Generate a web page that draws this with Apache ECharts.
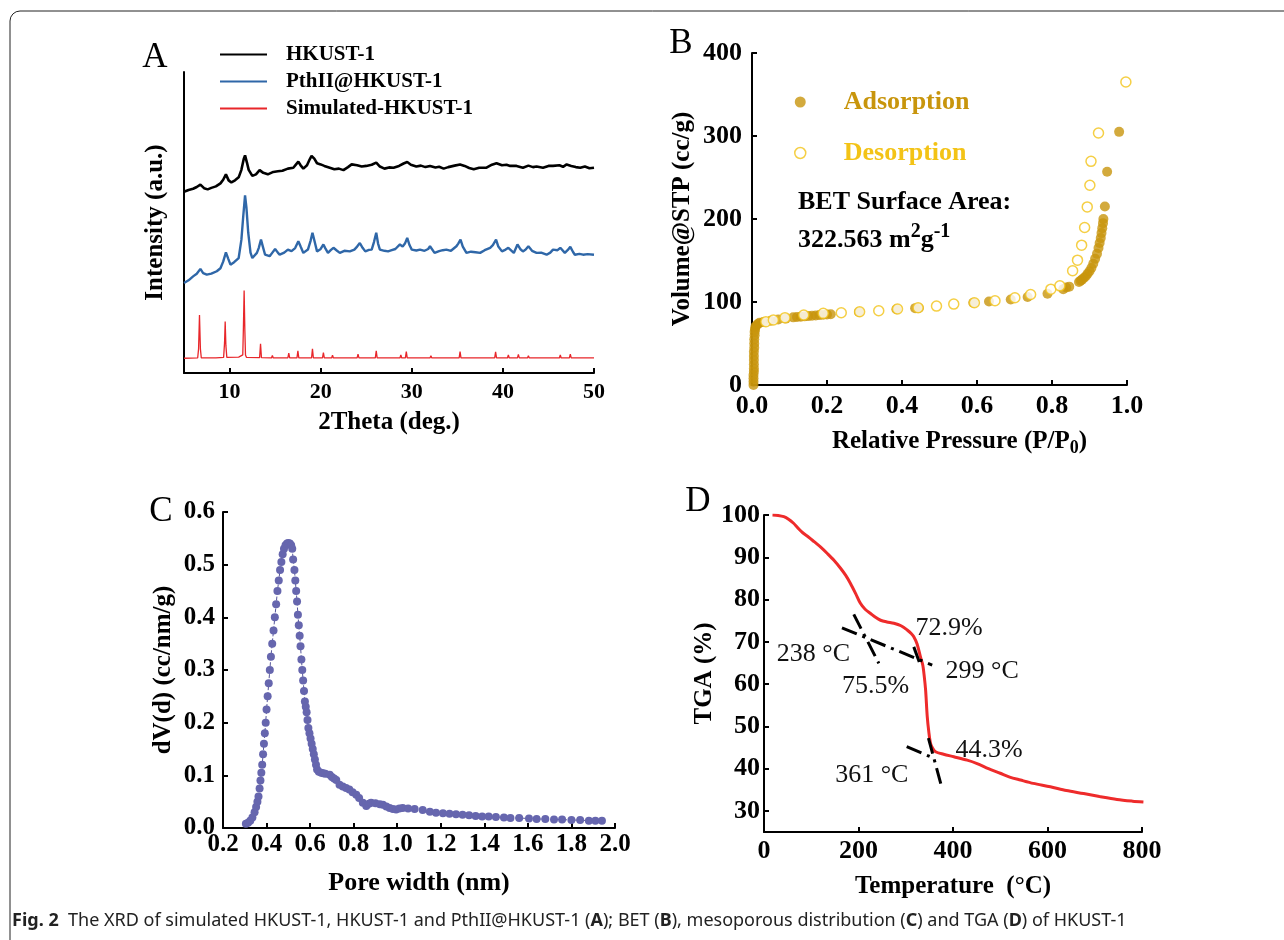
<!DOCTYPE html>
<html>
<head>
<meta charset="utf-8">
<script src="https://cdn.jsdelivr.net/npm/echarts@6/dist/echarts.min.js"></script>
<style>
  html, body { margin: 0; padding: 0; background: #fff; }
  #main { width: 1284px; height: 940px; }
</style>
</head>
<body>
<div id="main"></div>
<script>
const SERIF = '"Liberation Serif", "Times New Roman", serif';

// ---- panel A : XRD (2theta, offset intensity a.u.) ----
const xrdNames = ['HKUST-1', 'PthII@HKUST-1', 'Simulated-HKUST-1'];
const xrdTicks = [10, 20, 30, 40, 50];
const xrdBlack = [[5,60.2],[5.5,60.8],[6,61.2],[6.4,61.8],[6.8,62.6],[7.2,61.4],[7.6,61],[8,61.5],[8.5,62],[9,63],[9.3,64.2],[9.6,66],[9.9,64],[10.2,63.3],[10.6,64],[11,65],[11.3,67.5],[11.55,71],[11.7,72.3],[11.9,70],[12.1,67.5],[12.5,65.5],[12.9,66],[13.3,67.4],[13.7,66.5],[14.2,66],[14.8,66.8],[15.3,67],[15.8,67.2],[16.4,67.9],[17,68.2],[17.3,69.3],[17.55,70.2],[17.8,69],[18.1,67.9],[18.5,69],[18.8,71],[19,72.1],[19.3,71.2],[19.6,69.7],[20,69.3],[20.4,68.8],[21,68.2],[21.5,67.7],[22,67.9],[22.5,67.4],[23,68.4],[23.4,69.3],[24,69],[24.5,68.6],[25,68.8],[25.6,69.2],[26.1,69.9],[26.5,68.6],[27,67.9],[27.5,68.3],[28,68.2],[28.6,68.8],[29.1,69.6],[29.5,70.1],[29.9,69.2],[30.5,68.6],[31,68.9],[31.5,68.4],[32,68.8],[32.6,68.3],[33,68.5],[33.5,67.9],[34,68.4],[34.7,68.9],[35.3,69.3],[35.8,68.8],[36.3,68.1],[36.8,67.7],[37.4,68.2],[38.2,68.2],[38.8,69.2],[39.3,69.7],[39.9,69],[40.4,69.2],[40.8,68.8],[41.5,68.8],[42.2,68.2],[42.8,68.9],[43.3,68.4],[43.7,68.6],[44.4,68.2],[45,68.8],[45.5,68.8],[46.2,69],[46.6,68.5],[47,69.3],[47.5,68.8],[48,68.4],[48.5,68.2],[49,68.6],[49.5,68],[50,68.2]];
const xrdBlue = [[5,29.9],[5.5,30.8],[6,32.1],[6.4,33],[6.8,34.6],[7.1,33.2],[7.5,32.7],[8,33],[8.6,33.8],[9,34.8],[9.3,37],[9.6,40.1],[9.85,38],[10.1,36],[10.5,36.8],[11,38.2],[11.3,44.3],[11.5,52],[11.7,59],[11.85,55],[12.05,46.6],[12.3,40],[12.5,38.2],[13,39.9],[13.2,41.5],[13.45,44.3],[13.7,41.5],[13.9,39.3],[14.4,38.8],[14.7,40],[15,41.2],[15.3,40],[15.5,39.3],[16,40],[16.4,41],[16.8,40.5],[17.2,41.5],[17.55,43.8],[17.8,42],[18.1,39.9],[18.6,41],[18.9,44],[19.1,46.6],[19.35,43.5],[19.6,40.4],[20,41.2],[20.3,42.7],[20.5,41.5],[20.8,39.9],[21.1,40.8],[21.4,41.6],[21.8,40.6],[22.1,39.9],[22.6,40.6],[23.2,40.4],[23.7,41],[24,42],[24.3,43.2],[24.6,41.6],[24.9,40.4],[25.3,40.9],[25.6,41],[25.85,43.5],[26.1,46.6],[26.3,43],[26.5,41],[27,40.6],[27.4,40.4],[27.8,40.8],[28.2,41.2],[28.7,42.7],[29,42],[29.25,43],[29.5,44.9],[29.75,42.5],[30,41],[30.5,40.7],[30.9,41],[31.4,40.6],[31.8,41.2],[32,42.1],[32.5,39.9],[33,40.5],[33.4,40.8],[33.8,41],[34.3,40.6],[34.9,42.1],[35.1,43],[35.35,44.3],[35.6,42],[36,39.9],[36.5,40.3],[37,40.1],[37.5,39.9],[38,40.8],[38.6,41.6],[38.9,42.5],[39.25,44.3],[39.5,42],[39.9,40.4],[40.3,41],[40.6,41.6],[41.2,39.9],[41.6,42.7],[41.9,41.2],[42.2,40.4],[42.5,41],[42.8,42.1],[43.2,40.6],[43.7,39.9],[44.2,40],[44.8,39.3],[45.2,40],[45.5,41],[46,40.8],[46.3,41.6],[46.8,39.9],[47.1,40.8],[47.4,41.9],[47.7,40.2],[47.9,39.3],[48.4,39.6],[48.8,39.3],[49.3,39.5],[50,39.3]];
const xrdRed = [[5,4.9],[6.5,5],[6.6,8],[6.7,19.3],[6.8,8],[6.9,5],[8.5,5],[9.35,5.2],[9.45,10],[9.52,17.1],[9.6,9],[9.7,5.2],[11,5.3],[11.45,6],[11.52,15],[11.6,27.4],[11.68,14],[11.75,6],[11.85,5.2],[13.3,5.1],[13.4,9.7],[13.5,5.1],[14.6,5],[14.7,5.8],[14.8,5],[16.4,5],[16.5,6.6],[16.6,5],[17.4,5],[17.5,7.4],[17.6,5],[19,5],[19.1,8],[19.2,5],[20.2,5],[20.3,6.8],[20.4,5],[21.2,5],[21.3,5.9],[21.4,5],[23.3,5],[23.4,5.6],[23.5,5],[24,5],[24.1,6.3],[24.2,5],[26,5],[26.1,7.4],[26.2,5],[28.7,5],[28.8,6],[28.9,5],[29.3,5],[29.4,7.1],[29.5,5],[32,5],[32.1,5.7],[32.2,5],[35.2,5],[35.3,7.1],[35.4,5],[39.1,5],[39.2,7],[39.3,5],[40.5,5],[40.6,6],[40.7,5],[41.6,5],[41.7,6.2],[41.8,5],[42.7,5],[42.8,5.7],[42.9,5],[46.2,5],[46.3,6],[46.4,5],[47.3,5],[47.4,6.3],[47.5,5],[50,5]];

// ---- panel B : N2 isotherm ----
const betNames = ['Adsorption', 'Desorption'];
const adsorption = [[0.004,0],[0.004,4],[0.004,8],[0.004,12],[0.005,16],[0.005,20],[0.005,25],[0.005,30],[0.005,35],[0.005,40],[0.006,45],[0.006,50],[0.006,55],[0.007,60],[0.007,64],[0.008,67],[0.009,70],[0.012,72],[0.016,73.5],[0.02,75],[0.03,76],[0.05,77.5],[0.07,79],[0.09,80],[0.11,81.5],[0.12,82],[0.13,82.3],[0.14,82.7],[0.15,83],[0.16,83.4],[0.17,83.8],[0.18,84.2],[0.19,84.6],[0.2,85],[0.21,85.3],[0.285,88],[0.385,91.3],[0.435,92.6],[0.445,92.8],[0.59,99],[0.632,100.5],[0.69,103],[0.735,106],[0.788,110],[0.83,115.5],[0.838,117.5],[0.846,118.5],[0.872,124],[0.876,125.5],[0.88,127],[0.885,129],[0.89,131],[0.895,134],[0.9,137],[0.905,141],[0.91,146],[0.915,152],[0.92,158],[0.924,165],[0.927,171],[0.93,177],[0.932,183],[0.934,189],[0.936,195],[0.937,200],[0.941,215],[0.947,257],[0.979,305]];
const desorption = [[0.037,76.3],[0.057,78.3],[0.088,81.1],[0.138,84.3],[0.19,86.3],[0.238,87.1],[0.287,88.3],[0.338,89.5],[0.388,91.5],[0.443,93.1],[0.492,95.1],[0.538,97.5],[0.593,99.1],[0.648,101.5],[0.701,105.1],[0.743,109.1],[0.797,115.5],[0.821,119.5],[0.855,137.6],[0.868,150.4],[0.879,168.5],[0.887,189.7],[0.894,214.6],[0.901,240.7],[0.904,269.5],[0.924,303.6],[0.997,365]];

// ---- panel C : pore size distribution ----
const poreDist = [[0.305,0.008],[0.315,0.01],[0.325,0.014],[0.335,0.02],[0.345,0.03],[0.352,0.04],[0.358,0.05],[0.363,0.06],[0.368,0.075],[0.372,0.09],[0.376,0.105],[0.38,0.12],[0.384,0.14],[0.388,0.16],[0.392,0.18],[0.396,0.2],[0.4,0.225],[0.405,0.25],[0.41,0.275],[0.415,0.3],[0.42,0.325],[0.426,0.35],[0.432,0.375],[0.438,0.4],[0.444,0.425],[0.45,0.45],[0.456,0.47],[0.462,0.49],[0.468,0.505],[0.474,0.52],[0.48,0.53],[0.487,0.537],[0.494,0.54],[0.5,0.541],[0.507,0.54],[0.513,0.537],[0.518,0.53],[0.522,0.51],[0.528,0.49],[0.532,0.47],[0.536,0.45],[0.54,0.43],[0.544,0.405],[0.548,0.385],[0.552,0.365],[0.556,0.345],[0.56,0.32],[0.564,0.3],[0.568,0.28],[0.572,0.26],[0.576,0.24],[0.58,0.23],[0.584,0.22],[0.588,0.205],[0.592,0.19],[0.597,0.18],[0.602,0.17],[0.607,0.16],[0.612,0.15],[0.617,0.14],[0.622,0.13],[0.627,0.12],[0.632,0.111],[0.64,0.107],[0.651,0.105],[0.66,0.104],[0.67,0.103],[0.69,0.101],[0.70,0.097],[0.71,0.094],[0.72,0.091],[0.735,0.082],[0.75,0.079],[0.765,0.076],[0.78,0.073],[0.795,0.068],[0.812,0.063],[0.825,0.057],[0.842,0.048],[0.858,0.042],[0.87,0.046],[0.88,0.048],[0.9,0.047],[0.92,0.045],[0.934,0.044],[0.95,0.041],[0.965,0.038],[0.98,0.036],[0.995,0.035],[1.01,0.037],[1.025,0.038],[1.05,0.037],[1.08,0.036],[1.117,0.034],[1.15,0.031],[1.178,0.029],[1.21,0.028],[1.24,0.027],[1.27,0.026],[1.3,0.025],[1.33,0.024],[1.36,0.023],[1.39,0.022],[1.42,0.022],[1.453,0.021],[1.49,0.02],[1.52,0.019],[1.56,0.019],[1.605,0.018],[1.64,0.017],[1.68,0.017],[1.72,0.016],[1.757,0.016],[1.8,0.015],[1.84,0.015],[1.88,0.014],[1.91,0.014],[1.94,0.014]];

// ---- panel D : TGA ----
const tgaCurve = [[18,100],[30,99.9],[42,99.6],[52,99],[62,98.1],[72,96.9],[82,95.8],[94,94.8],[106,93.7],[120,92.4],[134,90.9],[148,89.3],[162,87.4],[173,85.7],[183,83.8],[194,81.4],[204,79.1],[214,77.7],[225.5,76.7],[236,75.8],[246.7,75.1],[260,74.7],[274.8,74.4],[290,73.8],[303,72.8],[312,71.9],[317,71.2],[324,69.5],[331,66.5],[336,64.5],[339,62],[342,58.6],[345.5,52.3],[349,48.5],[352.4,46],[357,44.8],[363,44],[380,43.4],[401.7,42.8],[430,42],[451,41.2],[475,40],[500,38.9],[520,38],[542.7,37.3],[570,36.5],[606,35.7],[640,34.8],[676.5,34.1],[710,33.4],[747,32.7],[780,32.3],[803,32.1]];
const tgaTangents = [
  [[190, 76.5], [243, 64.9]],
  [[165, 73.3], [356, 64.5]],
  [[317, 68.8], [331, 64.5]],
  [[302, 45.2], [352, 42.8]],
  [[348, 47.2], [375, 36.1]]
];
const tgaNotes = [
  ['72.9%', 320.6, 73.2],
  ['238 °C', 27, 67.1],
  ['299 °C', 384.3, 63.1],
  ['75.5%', 165, 59.4],
  ['44.3%', 405.5, 44.4],
  ['361 °C', 150.7, 38.4]
];
const tgaYTicks = [30, 40, 50, 60, 70, 80, 90, 100];

const GOLD = '#C8950C';
const YELLOW = '#F3C316';

function axisBase(extra) {
  return Object.assign({
    axisLine: { show: true, onZero: false, lineStyle: { color: '#000', width: 2 } },
    axisTick: { show: true, inside: true, length: 5, lineStyle: { color: '#000', width: 2 } },
    axisLabel: { fontFamily: SERIF, fontWeight: 'bold', fontSize: 25, color: '#000', margin: 8 },
    splitLine: { show: false },
    nameLocation: 'middle',
    nameTextStyle: { fontFamily: SERIF, fontWeight: 'bold', fontSize: 25, color: '#000' }
  }, extra);
}

const chart = echarts.init(document.getElementById('main'));

const option = {
  animation: false,
  backgroundColor: '#fff',
  grid: [
    { left: 184, top: 72, width: 410, height: 301 },
    { left: 752, top: 53, width: 375, height: 332 },
    { left: 223, top: 512, width: 392, height: 316 },
    { left: 764, top: 515, width: 378, height: 317 }
  ],
  legend: [
    {
      orient: 'vertical', left: 215, top: 39, icon: 'rect',
      itemWidth: 47, itemHeight: 2, itemGap: 6,
      data: xrdNames,
      textStyle: { fontFamily: SERIF, fontWeight: 'bold', fontSize: 21, color: '#000', lineHeight: 20, padding: [0, 0, 0, 14] }
    },
    {
      orient: 'vertical', left: 789, top: 82,
      itemWidth: 11, itemHeight: 11, itemGap: 21,
      data: [
        { name: betNames[0], icon: 'circle', textStyle: { color: GOLD } },
        { name: betNames[1], icon: 'circle', itemStyle: { color: '#fff', borderColor: YELLOW, borderWidth: 1.5 }, textStyle: { color: YELLOW } }
      ],
      textStyle: { fontFamily: SERIF, fontWeight: 'bold', fontSize: 26, lineHeight: 30, padding: [0, 0, 0, 33] }
    }
  ],
  xAxis: [
    axisBase({
      gridIndex: 0, type: 'value', min: 5, max: 50,
      axisTick: { show: true, inside: true, length: 5, customValues: xrdTicks, lineStyle: { color: '#000', width: 2 } },
      axisLabel: { fontFamily: SERIF, fontWeight: 'bold', fontSize: 22, color: '#000', margin: 8, customValues: xrdTicks },
      name: '2Theta (deg.)', nameGap: 37
    }),
    axisBase({
      gridIndex: 1, type: 'value', min: 0, max: 1, interval: 0.2,
      axisLabel: { fontFamily: SERIF, fontWeight: 'bold', fontSize: 26, color: '#000', margin: 8, formatter: (v) => v.toFixed(1) },
      name: 'Relative Pressure (P/P{s|0})', nameGap: 42,
      nameTextStyle: {
        fontFamily: SERIF, fontWeight: 'bold', fontSize: 25, color: '#000', padding: [0, 0, 0, 40],
        rich: { s: { fontFamily: SERIF, fontWeight: 'bold', fontSize: 18, color: '#000', padding: [12, 0, 0, 0] } }
      }
    }),
    axisBase({
      gridIndex: 2, type: 'value', min: 0.2, max: 2.0, interval: 0.2,
      axisLabel: { fontFamily: SERIF, fontWeight: 'bold', fontSize: 25, color: '#000', margin: 4, formatter: (v) => v.toFixed(1) },
      name: 'Pore width (nm)', nameGap: 42, nameTextStyle: { fontFamily: SERIF, fontWeight: 'bold', fontSize: 26, color: '#000' }
    }),
    axisBase({
      gridIndex: 3, type: 'value', min: 0, max: 800, interval: 200,
      axisLabel: { fontFamily: SERIF, fontWeight: 'bold', fontSize: 26, color: '#000', margin: 6 },
      name: 'Temperature  (°C)', nameGap: 42
    })
  ],
  yAxis: [
    axisBase({
      gridIndex: 0, type: 'value', min: 0, max: 100,
      axisTick: { show: false }, axisLabel: { show: false },
      name: 'Intensity (a.u.)', nameGap: 16
    }),
    axisBase({
      gridIndex: 1, type: 'value', min: 0, max: 400, interval: 100,
      axisLabel: { fontFamily: SERIF, fontWeight: 'bold', fontSize: 26, color: '#000', margin: 10 },
      name: 'Volume@STP (cc/g)', nameGap: 57
    }),
    axisBase({
      gridIndex: 2, type: 'value', min: 0, max: 0.6, interval: 0.1,
      axisLabel: { fontFamily: SERIF, fontWeight: 'bold', fontSize: 25, color: '#000', margin: 8, formatter: (v) => v.toFixed(1) },
      name: 'dV(d) (cc/nm/g)', nameGap: 47
    }),
    axisBase({
      gridIndex: 3, type: 'value', min: 25, max: 100,
      axisTick: { show: true, inside: true, length: 5, customValues: tgaYTicks, lineStyle: { color: '#000', width: 2 } },
      axisLabel: { fontFamily: SERIF, fontWeight: 'bold', fontSize: 26, color: '#000', margin: 4, customValues: tgaYTicks },
      name: 'TGA (%)', nameGap: 28
    })
  ],
  series: [
    { name: xrdNames[0], type: 'line', xAxisIndex: 0, yAxisIndex: 0, data: xrdBlack, showSymbol: false, symbol: 'none', color: '#000', lineStyle: { color: '#000', width: 2.6 } },
    { name: xrdNames[1], type: 'line', xAxisIndex: 0, yAxisIndex: 0, data: xrdBlue, showSymbol: false, symbol: 'none', color: '#2F67A8', lineStyle: { color: '#2F67A8', width: 2.4 } },
    { name: xrdNames[2], type: 'line', xAxisIndex: 0, yAxisIndex: 0, data: xrdRed, showSymbol: false, symbol: 'none', color: '#E8262A', lineStyle: { color: '#E8262A', width: 1.3 } },
    { name: betNames[0], type: 'scatter', xAxisIndex: 1, yAxisIndex: 1, data: adsorption, symbolSize: 10, itemStyle: { color: GOLD } },
    { name: betNames[1], type: 'scatter', xAxisIndex: 1, yAxisIndex: 1, data: desorption, symbolSize: 10, itemStyle: { color: '#fff', borderColor: YELLOW, borderWidth: 1.5 } },
    {
      name: 'dV(d)', type: 'line', xAxisIndex: 2, yAxisIndex: 2, data: poreDist,
      symbol: 'circle', symbolSize: 8, showAllSymbol: true,
      itemStyle: { color: '#6666AE' }, lineStyle: { color: '#55559a', width: 1, type: 'dashed' }
    },
    {
      name: 'TGA', type: 'line', xAxisIndex: 3, yAxisIndex: 3, data: tgaCurve,
      smooth: 0.3, showSymbol: false, symbol: 'none',
      lineStyle: { color: '#EE2B2B', width: 3 },
      markLine: {
        silent: true, symbol: ['none', 'none'], label: { show: false },
        lineStyle: { color: '#000', width: 3, type: [16, 6, 3, 6] },
        data: tgaTangents.map((seg) => [{ coord: seg[0] }, { coord: seg[1] }])
      },
      markPoint: {
        silent: true, symbol: 'circle', symbolSize: 0,
        label: { show: true, position: 'inside', align: 'left', verticalAlign: 'middle', fontFamily: SERIF, fontSize: 26, color: '#111', formatter: (p) => p.name },
        data: tgaNotes.map((n) => ({ name: n[0], coord: [n[1], n[2]] }))
      }
    }
  ],
  graphic: [
    { type: 'rect', shape: { x: 10, y: 11, width: 1300, height: 1000, r: 10 }, style: { fill: 'none', stroke: '#222', lineWidth: 1 }, silent: true },
    { type: 'text', x: 155, y: 58, style: { text: 'A', font: '35px ' + SERIF, fill: '#000', align: 'center', verticalAlign: 'middle' } },
    { type: 'text', x: 681, y: 44, style: { text: 'B', font: '35px ' + SERIF, fill: '#000', align: 'center', verticalAlign: 'middle' } },
    { type: 'text', x: 161, y: 512, style: { text: 'C', font: '35px ' + SERIF, fill: '#000', align: 'center', verticalAlign: 'middle' } },
    { type: 'text', x: 698, y: 502, style: { text: 'D', font: '35px ' + SERIF, fill: '#000', align: 'center', verticalAlign: 'middle' } },
    { type: 'text', x: 798, y: 202, style: { text: 'BET Surface Area:', font: 'bold 26px ' + SERIF, fill: '#000', verticalAlign: 'middle' } },
    {
      type: 'text', x: 798, y: 240,
      style: {
        text: '322.563 m{sup|2}g{sup|-1}', font: 'bold 26px ' + SERIF, fill: '#000', verticalAlign: 'middle', lineHeight: 36,
        rich: { sup: { font: 'bold 20px ' + SERIF, fill: '#000', verticalAlign: 'top', lineHeight: 36 } }
      }
    },
    {
      type: 'text', x: 12, y: 921,
      style: {
        text: '{b|Fig. 2}  The XRD of simulated HKUST-1, HKUST-1 and PthII@HKUST-1 ({b|A}); BET ({b|B}), mesoporous distribution ({b|C}) and TGA ({b|D}) of HKUST-1',
        font: '18px "Noto Sans"', fill: '#222', verticalAlign: 'middle',
        rich: { b: { font: 'bold 18px "Noto Sans"', fill: '#222' } }
      }
    }
  ]
};

chart.setOption(option);
</script>
</body>
</html>
